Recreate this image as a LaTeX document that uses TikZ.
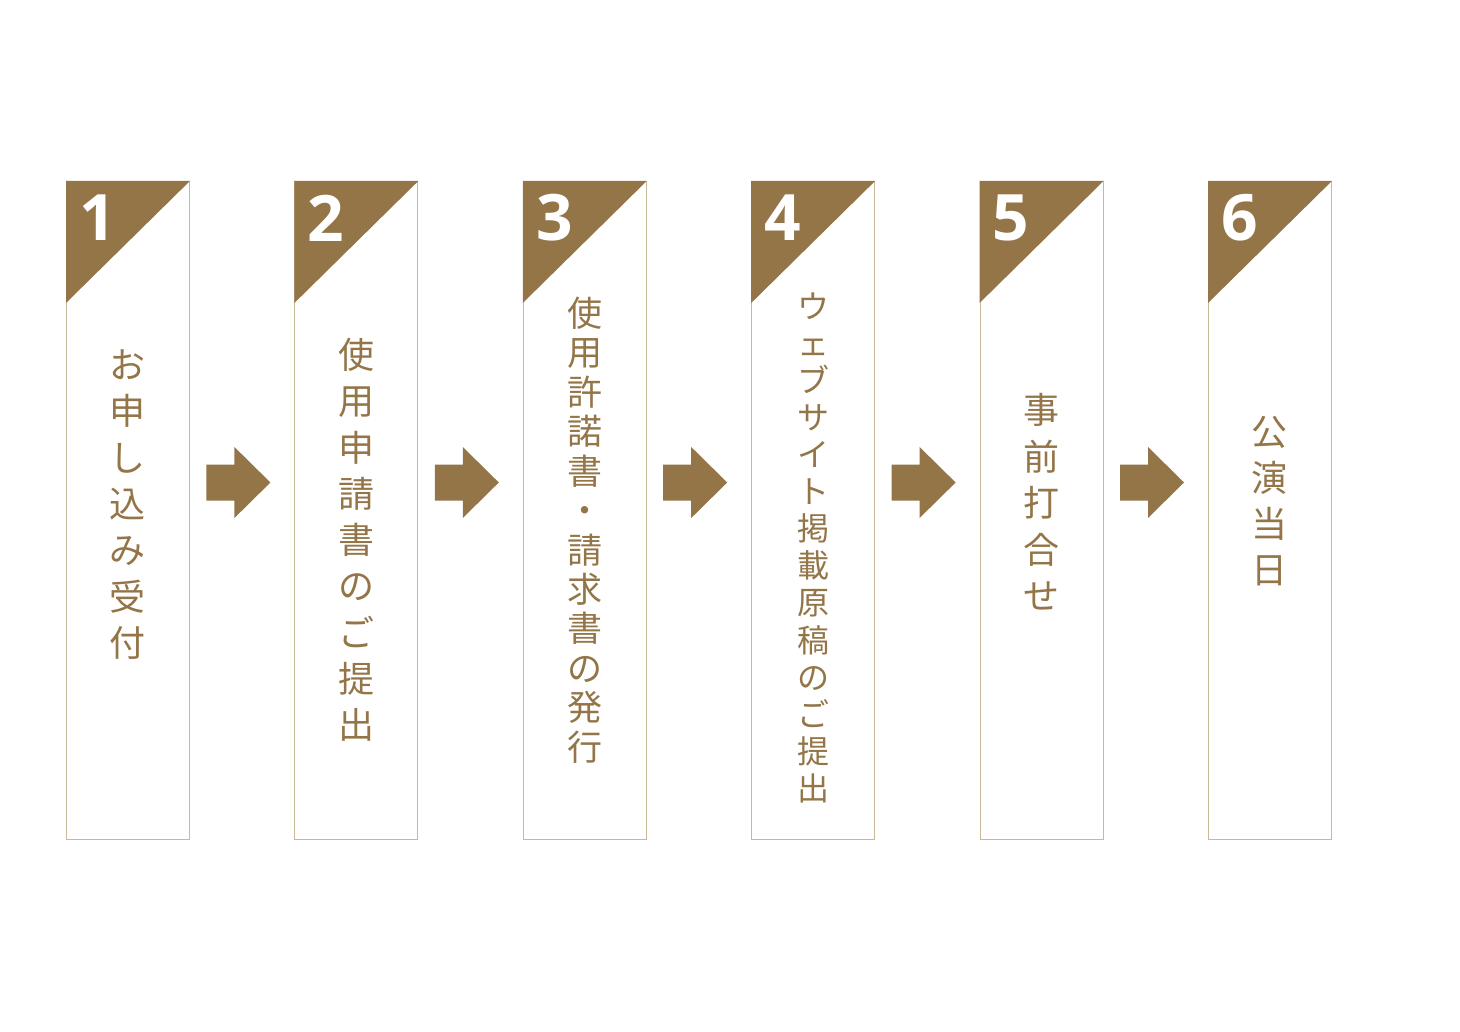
\documentclass[tikz,border=0pt]{standalone}
\usepackage{fontspec}
\newfontfamily\jpfont{Noto Sans CJK JP}
\newfontfamily\numfont{Open Sans}
\usetikzlibrary{calc}
\definecolor{gold}{HTML}{937548}
\definecolor{frame}{HTML}{C9B99B}
\tikzset{
  stepbox/.style={draw=frame, line width=0.9pt, fill=white, minimum width=123pt, minimum height=658pt, inner sep=0pt, anchor=north west},
  numtext/.style={text=white, font=\numfont\bfseries\fontsize{64}{64}\selectfont, inner sep=0pt, anchor=center},
  chr/.style={text=gold, inner sep=0pt, anchor=center},
  flowarrow/.style={fill=gold}
}
\newcommand\txtcol[5]{% box, first y, step, size, chars
  \foreach \c [count=\k] in {#5}{
    \pgfmathsetmacro{\dy}{#2-181+(\k-1)*#3}
    \pgfmathsetmacro{\th}{0.88*#4}
    \pgfmathsetmacro{\td}{0.12*#4}
    \node[chr, font=\jpfont\fontsize{#4}{#4}\selectfont, text height=\th pt, text depth=\td pt] (t#1-\k) at ($(b#1.north)+(0,\dy)$) {\c};
  }
}
\begin{document}
\begin{tikzpicture}[x=1pt,y=-1pt]
\fill[white] (0,0) rectangle (1460,1032);
\useasboundingbox (0,0) rectangle (1460,1032);
% boxes
\foreach \i in {1,...,6}{
  \pgfmathsetmacro{\bx}{66+(\i-1)*228.4}
  \node[stepbox] (b\i) at (\bx,181) {};
  \fill[gold] (b\i.north west) -- (b\i.north east) -- ($(b\i.north west)+(0,122)$) -- cycle;
  \node[numtext] (n\i) at ($(b\i.north west)+(31.5,37)$) {\i};
}
% arrows
\foreach \i in {1,...,5}{
  \coordinate (a\i) at ($(b\i.north east)+(16.5,283.5)$);
  \fill[flowarrow] (a\i) -- ++(28,0) -- ++(0,-17.5) -- ++(36,35.5) -- ++(-36,35.5) -- ++(0,-17.5) -- ++(-28,0) -- cycle;
}
% texts
\txtcol{1}{365}{46.3}{36}{お,申,し,込,み,受,付}
\txtcol{2}{355}{46.25}{36}{使,用,申,請,書,の,ご,提,出}
\txtcol{3}{313}{39.45}{35}{使,用,許,諾,書,・,請,求,書,の,発,行}
\txtcol{4}{306}{37.1}{32}{ウ,ェ,ブ,サ,イ,ト,掲,載,原,稿,の,ご,提,出}
\txtcol{5}{410}{46.5}{36}{事,前,打,合,せ}
\txtcol{6}{432}{46}{36}{公,演,当,日}
\end{tikzpicture}
\end{document}
